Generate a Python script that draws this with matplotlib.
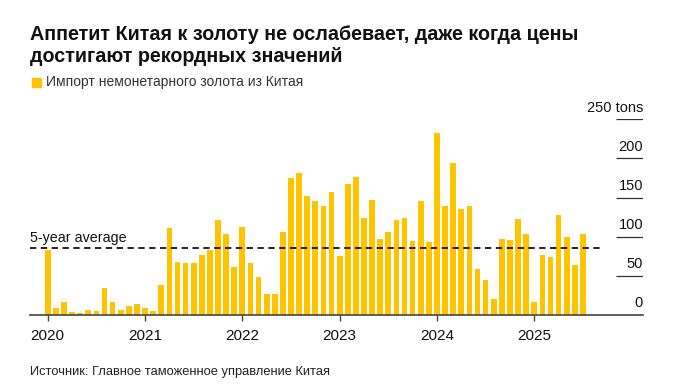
import numpy as np
import matplotlib.pyplot as plt

plt.rcParams['font.family'] = ['Liberation Sans', 'DejaVu Sans']

# Импорт немонетарного золота, тонн, янв 2020 - июл 2025
imports_2020 = [83, 9, 17, 4, 2.5, 6, 5, 34, 16, 6.5, 11.5, 13.5]
imports_2021 = [9, 5.5, 38, 111, 68, 67, 66, 77, 83, 121.5, 103, 61.5]
imports_2022 = [112.5, 67, 49, 27, 26.5, 105.5, 175, 181.5, 152, 145, 139.5, 157]
imports_2023 = [75, 167.5, 176.5, 123.5, 147, 97.5, 106.5, 121.5, 123.5, 95, 146, 93.5]
imports_2024 = [233, 139, 194.5, 136, 139, 59, 44.5, 21, 97, 96, 123, 104]
imports_2025 = [17, 77, 74, 127.5, 100, 64, 103.5]
imports = imports_2020 + imports_2021 + imports_2022 + imports_2023 + imports_2024 + imports_2025

five_year_avg = 86
years = [2020, 2021, 2022, 2023, 2024, 2025]
y_ticks = [0, 50, 100, 150, 200, 250]
y_labels = ['0', '50', '100', '150', '200', '250 tons']

title_lines = ["Аппетит Китая к золоту не ослабевает, даже когда цены",
               "достигают рекордных значений"]
legend_text = "Импорт немонетарного золота из Китая"
source = "Источник: Главное таможенное управление Китая"

bar_color = '#FFC300'
W, H = 677, 392

fig = plt.figure(figsize=(W / 100, H / 100), dpi=100)
ax = fig.add_axes([30 / W, (H - 315) / H, (643 - 30) / W, (315 - 119.3) / H])

x = np.arange(len(imports))
ax.bar(x, imports, width=0.7, color=bar_color, zorder=2)

x_left, x_right = -2.18, 73.4
ax.set_xlim(x_left, x_right)
ax.set_ylim(0, 250)

# 5-летнее среднее
ax.hlines(five_year_avg, x_left, 68.3, colors='#111111', linestyles=(0, (3.5, 2.5)),
          linewidth=1.3, zorder=3)
ax.text(x_left, five_year_avg + 4, "5-year average", fontsize=10.3, color='#111111',
        ha='left', va='bottom')

# правая шкала: короткие линии и подписи
for v in y_ticks[1:]:
    ax.hlines(v, 70.1, x_right, colors='#333333', linewidth=0.9)
for v, lab in zip(y_ticks, y_labels):
    ax.text(x_right, v + 6, lab, fontsize=10.5, color='#111111', ha='right', va='bottom')

for s in ['top', 'right', 'left']:
    ax.spines[s].set_visible(False)
ax.spines['bottom'].set_color('#444444')
ax.spines['bottom'].set_linewidth(1.2)
ax.set_yticks([])
ax.set_xticks([(y - 2020) * 12 for y in years])
ax.set_xticklabels([str(y) for y in years], fontsize=11, color='#111111')
ax.tick_params(axis='x', length=4, width=1, color='#444444', pad=6)

for i, line in enumerate(title_lines):
    fig.text(30 / W, 1 - (39.5 + 22 * i) / H, line, fontsize=14.25, fontweight='bold',
             color='#111111', ha='left', va='baseline')
fig.patches.append(plt.Rectangle((32 / W, 1 - 86.5 / H), 8.5 / W, 8.5 / H,
                                 transform=fig.transFigure, color=bar_color))
fig.text(46 / W, 1 - 82 / H, legend_text, fontsize=10, color='#333333', ha='left', va='center')
fig.text(30 / W, 1 - 372 / H, source, fontsize=9.3, color='#222222', ha='left', va='center')

fig.savefig('out.png', dpi=100)
